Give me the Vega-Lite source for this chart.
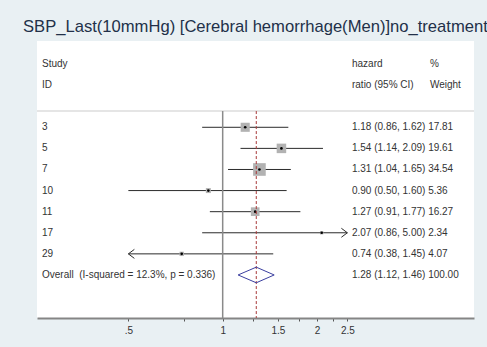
{
  "$schema": "https://vega.github.io/schema/vega-lite/v6.json",
  "width": 437,
  "height": 277,
  "autosize": {"type": "none"},
  "padding": {"left": 37, "top": 41, "right": 13, "bottom": 29},
  "background": "#e9f0f3",
  "view": {"fill": "#ffffff", "stroke": null},
  "config": {"font": "Liberation Sans", "text": {"font": "Liberation Sans"}},
  "title": {
    "text": "SBP_Last(10mmHg) [Cerebral hemorrhage(Men)]no_treatment",
    "anchor": "start",
    "frame": "group",
    "dx": -14,
    "dy": 12,
    "offset": 4,
    "baseline": "alphabetic",
    "fontSize": 16.6,
    "fontWeight": "normal",
    "font": "Liberation Sans",
    "color": "#223049",
    "limit": 0
  },
  "datasets": {
    "studies": [
      {"study": "3", "row": 3, "hr": 1.18, "lo": 0.86, "hi": 1.62, "weight": 17.81, "est": "1.18 (0.86, 1.62) 17.81"},
      {"study": "5", "row": 4, "hr": 1.54, "lo": 1.14, "hi": 2.09, "weight": 19.61, "est": "1.54 (1.14, 2.09) 19.61"},
      {"study": "7", "row": 5, "hr": 1.31, "lo": 1.04, "hi": 1.65, "weight": 34.54, "est": "1.31 (1.04, 1.65) 34.54"},
      {"study": "10", "row": 6, "hr": 0.90, "lo": 0.50, "hi": 1.60, "weight": 5.36, "est": "0.90 (0.50, 1.60) 5.36"},
      {"study": "11", "row": 7, "hr": 1.27, "lo": 0.91, "hi": 1.77, "weight": 16.27, "est": "1.27 (0.91, 1.77) 16.27"},
      {"study": "17", "row": 8, "hr": 2.07, "lo": 0.86, "hi": 5.00, "weight": 2.34, "est": "2.07 (0.86, 5.00) 2.34"},
      {"study": "29", "row": 9, "hr": 0.74, "lo": 0.38, "hi": 1.45, "weight": 4.07, "est": "0.74 (0.38, 1.45) 4.07"}
    ],
    "overall": [
      {"study": "Overall\u00a0\u00a0(I-squared = 12.3%, p = 0.336)", "row": 10, "hr": 1.28, "lo": 1.12, "hi": 1.46, "est": "1.28 (1.12, 1.46) 100.00"}
    ],
    "diamond": [
      {"pt": 1, "x": 1.12, "row": 10},
      {"pt": 2, "x": 1.28, "row": 9.63},
      {"pt": 3, "x": 1.46, "row": 10},
      {"pt": 4, "x": 1.28, "row": 10.37},
      {"pt": 5, "x": 1.12, "row": 10}
    ],
    "header": [
      {"row": 0, "study": "Study", "ratio": "hazard", "pct": "%"},
      {"row": 1, "study": "ID", "ratio": "ratio (95% CI)", "pct": "Weight"}
    ]
  },
  "layer": [
    {
      "data": {"name": "overall"},
      "mark": {"type": "rule", "color": "#dcdcdc", "strokeWidth": 1.5},
      "encoding": {
        "y": {"datum": 2.23, "type": "quantitative", "scale": {"domain": [-1.09, 12.04], "reverse": true, "nice": false, "zero": false}, "axis": null}
      }
    },
    {
      "data": {"name": "studies"},
      "transform": [
        {"calculate": "max(datum.lo, 0.5)", "as": "loD"},
        {"calculate": "min(datum.hi, 2.5)", "as": "hiD"}
      ],
      "mark": {"type": "rule", "color": "#2b2b2b", "strokeWidth": 1},
      "encoding": {
        "x": {
          "field": "loD", "type": "quantitative", "title": null,
          "scale": {"type": "log", "domain": [0.2555, 6.34], "nice": false, "zero": false},
          "axis": {
            "title": null,
            "values": [0.5, 0.75, 1, 1.25, 1.5, 1.75, 2, 2.25, 2.5],
            "labelExpr": "datum.value == 0.5 ? '.5' : (datum.value == 1 ? '1' : (datum.value == 1.5 ? '1.5' : (datum.value == 2 ? '2' : (datum.value == 2.5 ? '2.5' : ''))))",
            "grid": false,
            "domainColor": "#858585",
            "domainWidth": 2,
            "tickColor": "#555555",
            "tickSize": 3,
            "tickWidth": 1,
            "labelFontSize": 10,
            "labelColor": "#333333",
            "labelFont": "Liberation Sans",
            "labelPadding": 4,
            "labelFlush": false,
            "labelOverlap": false
          }
        },
        "x2": {"field": "hiD"},
        "y": {"field": "row", "type": "quantitative", "axis": null}
      }
    },
    {
      "data": {"name": "studies"},
      "mark": {"type": "point", "shape": "square", "filled": true, "color": "#b2b2b2", "opacity": 1},
      "encoding": {
        "x": {"field": "hr", "type": "quantitative", "title": null},
        "y": {"field": "row", "type": "quantitative", "axis": null},
        "size": {"field": "weight", "type": "quantitative", "scale": {"type": "linear", "domain": [0, 34.54], "range": [0, 160]}, "legend": null}
      }
    },
    {
      "data": {"name": "studies"},
      "mark": {"type": "point", "shape": "circle", "filled": true, "color": "#000000", "size": 7, "opacity": 1},
      "encoding": {
        "x": {"field": "hr", "type": "quantitative", "title": null},
        "y": {"field": "row", "type": "quantitative", "axis": null}
      }
    },
    {
      "data": {"name": "studies"},
      "transform": [
        {"filter": "datum.lo < 0.5"},
        {"calculate": "max(datum.lo, 0.5)", "as": "loD"}
      ],
      "mark": {"type": "point", "shape": "M0,0L1.2,-0.9M0,0L1.2,0.9", "filled": false, "color": "#2b2b2b", "strokeWidth": 1, "size": 100, "opacity": 1},
      "encoding": {
        "x": {"field": "loD", "type": "quantitative", "title": null},
        "y": {"field": "row", "type": "quantitative", "axis": null}
      }
    },
    {
      "data": {"name": "studies"},
      "transform": [
        {"filter": "datum.hi > 2.5"},
        {"calculate": "min(datum.hi, 2.5)", "as": "hiD"}
      ],
      "mark": {"type": "point", "shape": "M0,0L-1.2,-0.9M0,0L-1.2,0.9", "filled": false, "color": "#2b2b2b", "strokeWidth": 1, "size": 100, "opacity": 1},
      "encoding": {
        "x": {"field": "hiD", "type": "quantitative", "title": null},
        "y": {"field": "row", "type": "quantitative", "axis": null}
      }
    },
    {
      "data": {"name": "overall"},
      "mark": {"type": "rule", "color": "#8a8a8a", "strokeWidth": 1.5},
      "encoding": {
        "x": {"datum": 1, "type": "quantitative", "title": null},
        "y": {"datum": 2.23, "type": "quantitative", "axis": null},
        "y2": {"datum": 12.04}
      }
    },
    {
      "data": {"name": "overall"},
      "mark": {"type": "rule", "color": "#a83a3a", "strokeWidth": 1, "strokeDash": [3, 2]},
      "encoding": {
        "x": {"field": "hr", "type": "quantitative", "title": null},
        "y": {"datum": 2.23, "type": "quantitative", "axis": null},
        "y2": {"datum": 12.04}
      }
    },
    {
      "data": {"name": "diamond"},
      "mark": {"type": "line", "color": "#3b3fa0", "strokeWidth": 1},
      "encoding": {
        "x": {"field": "x", "type": "quantitative", "title": null},
        "y": {"field": "row", "type": "quantitative", "axis": null},
        "order": {"field": "pt", "type": "quantitative"}
      }
    },
    {
      "data": {"name": "studies"},
      "mark": {"type": "text", "align": "left", "baseline": "middle", "fontSize": 10, "color": "#333333"},
      "encoding": {
        "x": {"datum": 0.2651, "type": "quantitative", "title": null},
        "y": {"field": "row", "type": "quantitative", "axis": null},
        "text": {"field": "study"}
      }
    },
    {
      "data": {"name": "overall"},
      "mark": {"type": "text", "align": "left", "baseline": "middle", "fontSize": 10, "color": "#333333"},
      "encoding": {
        "x": {"datum": 0.2651, "type": "quantitative", "title": null},
        "y": {"field": "row", "type": "quantitative", "axis": null},
        "text": {"field": "study"}
      }
    },
    {
      "data": {"name": "header"},
      "mark": {"type": "text", "align": "left", "baseline": "middle", "fontSize": 10, "color": "#333333"},
      "encoding": {
        "x": {"datum": 0.2651, "type": "quantitative", "title": null},
        "y": {"field": "row", "type": "quantitative", "axis": null},
        "text": {"field": "study"}
      }
    },
    {
      "data": {"name": "studies"},
      "mark": {"type": "text", "align": "left", "baseline": "middle", "fontSize": 10, "color": "#333333"},
      "encoding": {
        "x": {"datum": 2.586, "type": "quantitative", "title": null},
        "y": {"field": "row", "type": "quantitative", "axis": null},
        "text": {"field": "est"}
      }
    },
    {
      "data": {"name": "overall"},
      "mark": {"type": "text", "align": "left", "baseline": "middle", "fontSize": 10, "color": "#333333"},
      "encoding": {
        "x": {"datum": 2.586, "type": "quantitative", "title": null},
        "y": {"field": "row", "type": "quantitative", "axis": null},
        "text": {"field": "est"}
      }
    },
    {
      "data": {"name": "header"},
      "mark": {"type": "text", "align": "left", "baseline": "middle", "fontSize": 10, "color": "#333333"},
      "encoding": {
        "x": {"datum": 2.586, "type": "quantitative", "title": null},
        "y": {"field": "row", "type": "quantitative", "axis": null},
        "text": {"field": "ratio"}
      }
    },
    {
      "data": {"name": "header"},
      "mark": {"type": "text", "align": "left", "baseline": "middle", "fontSize": 10, "color": "#333333"},
      "encoding": {
        "x": {"datum": 4.587, "type": "quantitative", "title": null},
        "y": {"field": "row", "type": "quantitative", "axis": null},
        "text": {"field": "pct"}
      }
    }
  ]
}
